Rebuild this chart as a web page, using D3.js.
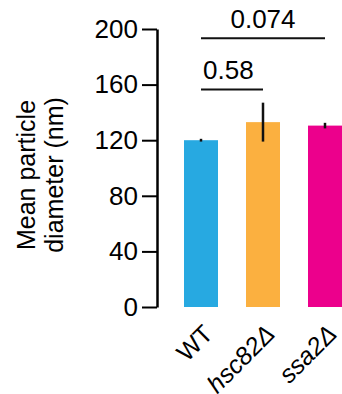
<!DOCTYPE html>
<html>
<head>
<meta charset="utf-8">
<script src="https://cdn.jsdelivr.net/npm/d3@7"></script>
<style>
  body { margin: 0; background: #fff; }
  text { font-family: "Liberation Sans", Arial, Helvetica, sans-serif; fill: #000; }
</style>
</head>
<body>
<svg id="chart" width="342" height="394"></svg>
<script>
// Data
const categories = ["WT", "hsc82Δ", "ssa2Δ"];
const italicLabel = [false, true, true];
const means = [120, 133, 130.5];
const errors = [1, 14, 2];
const colors = ["#27a9e1", "#fbb040", "#ec008c"];
const yTicks = [0, 40, 80, 120, 160, 200];
// significance brackets: [from index, to index, label]
const brackets = [[0, 1, "0.58"], [0, 2, "0.074"]];
const bracketLevels = [156.5, 193.3];

const svg = d3.select("#chart");

// Scales
const y = d3.scaleLinear().domain([0, 200]).range([307, 29]);
const x = d3.scalePoint().domain(categories).range([201, 325]);
const barWidth = 34;

// Bars
svg.selectAll(".bar")
  .data(categories)
  .enter().append("rect")
  .attr("class", "bar")
  .attr("x", d => x(d) - barWidth / 2)
  .attr("y", (d, i) => y(means[i]))
  .attr("width", barWidth)
  .attr("height", (d, i) => y(0) - y(means[i]))
  .style("fill", (d, i) => colors[i]);

// Error bars
svg.selectAll(".err")
  .data(categories)
  .enter().append("line")
  .attr("x1", d => x(d))
  .attr("x2", d => x(d))
  .attr("y1", (d, i) => y(means[i] - errors[i]))
  .attr("y2", (d, i) => y(means[i] + errors[i]))
  .style("stroke", "#111")
  .style("stroke-width", 2.5);

// Y axis
const axis = svg.append("g")
  .attr("transform", "translate(157,0)")
  .call(d3.axisLeft(y).tickValues(yTicks).tickSize(15).tickSizeOuter(0).tickPadding(4));
axis.select(".domain").style("stroke-width", 2.5);
axis.selectAll(".tick line").style("stroke-width", 2);
axis.selectAll(".tick text")
  .style("font-size", "26px")
  .attr("font-family", null);

// Y axis title
const title = svg.append("text")
  .attr("transform", "translate(35,175) rotate(-90)")
  .attr("text-anchor", "middle")
  .style("font-size", "25px");
title.append("tspan").attr("x", 0).attr("y", 0).text("Mean particle");
title.append("tspan").attr("x", 0).attr("y", 28).text("diameter (nm)");

// X labels
svg.selectAll(".xlabel")
  .data(categories)
  .enter().append("text")
  .attr("class", "xlabel")
  .attr("transform", d => `translate(${x(d) + 1},${323}) rotate(-45)`)
  .attr("text-anchor", "end")
  .attr("dy", "0.7em")
  .style("font-size", "25px")
  .style("font-style", (d, i) => italicLabel[i] ? "italic" : "normal")
  .text(d => d);

// Significance brackets
brackets.forEach((b, k) => {
  const x1 = x(categories[b[0]]);
  const x2 = x(categories[b[1]]);
  const yy = y(bracketLevels[k]);
  svg.append("line")
    .attr("x1", x1).attr("x2", x2)
    .attr("y1", yy).attr("y2", yy)
    .style("stroke", "#111")
    .style("stroke-width", 2);
  svg.append("text")
    .attr("x", k === 0 ? x1 + 2 : (x1 + x2) / 2)
    .attr("y", yy - 10)
    .attr("text-anchor", k === 0 ? "start" : "middle")
    .style("font-size", "26px")
    .text(b[2]);
});
</script>
</body>
</html>
